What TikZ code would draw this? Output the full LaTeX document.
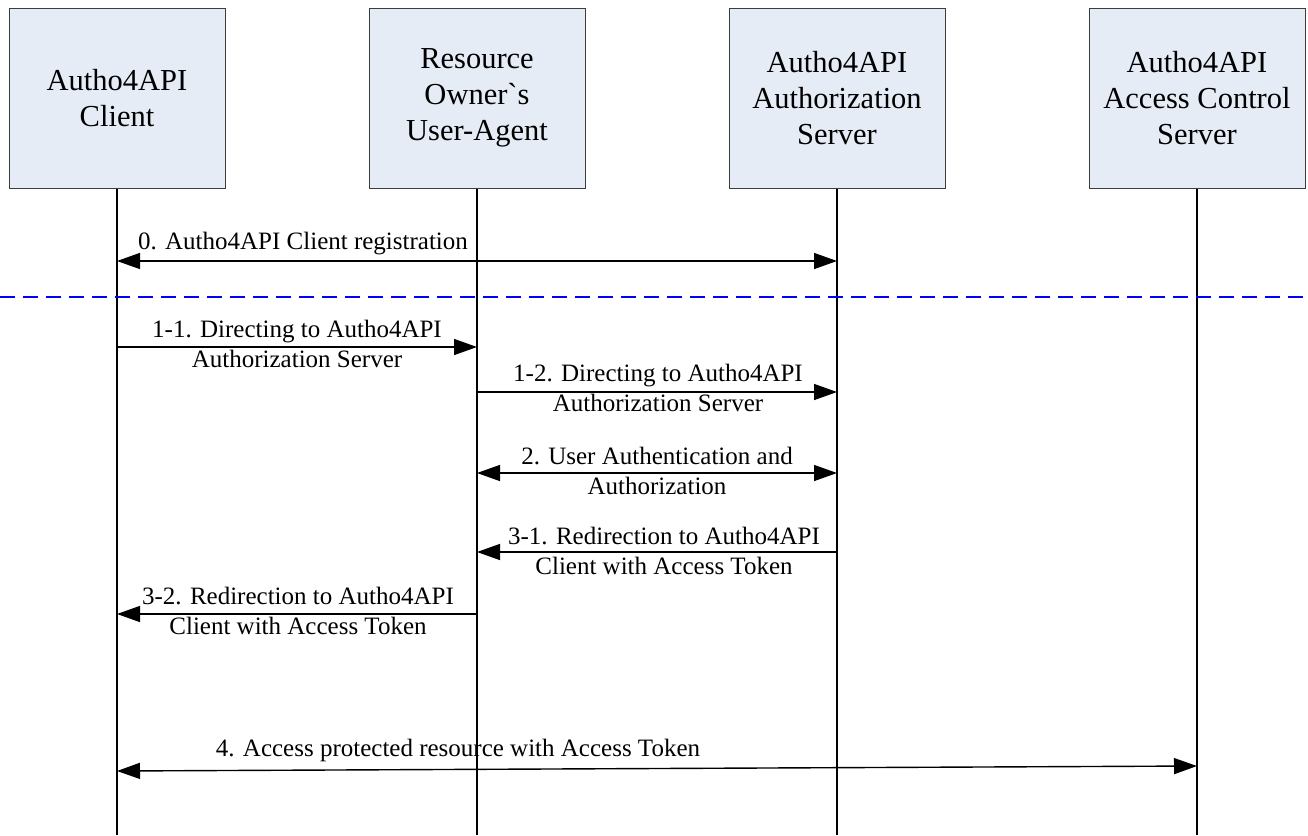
\documentclass[tikz,border=0pt]{standalone}
\usepackage{fontspec}
\newfontfamily\lib{Liberation Serif}
\usetikzlibrary{arrows.meta}
\definecolor{boxfill}{RGB}{230,236,246}
\definecolor{boxline}{RGB}{60,60,60}
\begin{document}
\begin{tikzpicture}[x=1pt,y=-1pt,
  actor/.style={draw=boxline, fill=boxfill, line width=1pt, minimum width=216pt, minimum height=180pt,
    align=center, inner sep=0pt, font=\lib\fontsize{30.5}{36}\selectfont},
  life/.style={line width=1.4pt, black},
  msg/.style={line width=1.4pt, -{Triangle[length=23pt,width=16pt]}},
  dmsg/.style={line width=1.4pt, {Triangle[length=23pt,width=16pt]}-{Triangle[length=23pt,width=16pt]}},
  lbl/.style={align=center, inner sep=0pt, font=\lib\fontsize{25}{30}\selectfont},
  sep/.style={draw=blue, line width=1.4pt, dash pattern=on 15pt off 8pt}]
\useasboundingbox (0,0) rectangle (1308,835);

\node[actor] (c) at (117,98) {Autho4API\\Client};
\node[actor] (u) at (477,98) {Resource\\Owner`s\\User-Agent};
\node[actor] (a) at (837,98) {Autho4API\\Authorization\\Server};
\node[actor] (s) at (1197,98) {Autho4API\\Access Control\\Server};

\coordinate (cE) at (117,835);
\coordinate (uE) at (477,835);
\coordinate (aE) at (837,835);
\coordinate (sE) at (1197,835);
\draw[life] (c.south) -- (cE);
\draw[life] (u.south) -- (uE);
\draw[life] (a.south) -- (aE);
\draw[life] (s.south) -- (sE);

% message end points on the lifelines
\coordinate (c0) at (117,261); \coordinate (a0) at (837,261);
\coordinate (sepL) at (0,297); \coordinate (sepR) at (1308,297);
\coordinate (c11) at (117,347); \coordinate (u11) at (477,347);
\coordinate (u12) at (477,392); \coordinate (a12) at (837,392);
\coordinate (u2) at (477,473); \coordinate (a2) at (837,473);
\coordinate (a31) at (837,552); \coordinate (u31) at (477,552);
\coordinate (u32) at (477,614); \coordinate (c32) at (117,614);
\coordinate (c4) at (117,771); \coordinate (s4) at (1197,766);

\draw[dmsg] (c0) -- (a0);
\node[lbl] (l0) at (303,244) {0. Autho4API Client registration};

\draw[sep] (sepL) -- (sepR);

\draw[msg] (c11) -- (u11);
\node[lbl] (l11) at (297,344) {1-1. Directing to Autho4API\\Authorization Server};

\draw[msg] (u12) -- (a12);
\node[lbl] (l12) at (658,388) {1-2. Directing to Autho4API\\Authorization Server};

\draw[dmsg] (u2) -- (a2);
\node[lbl] (l2) at (657,471) {2. User Authentication and\\Authorization};

\draw[msg] (a31) -- (u31);
\node[lbl] (l31) at (664,551) {3-1. Redirection to Autho4API\\Client with Access Token};

\draw[msg] (u32) -- (c32);
\node[lbl] (l32) at (298,611) {3-2. Redirection to Autho4API\\Client with Access Token};

\draw[dmsg] (c4) -- (s4);
\node[lbl] (l4) at (458,750) {4. Access protected resource with Access Token};
\end{tikzpicture}
\end{document}
